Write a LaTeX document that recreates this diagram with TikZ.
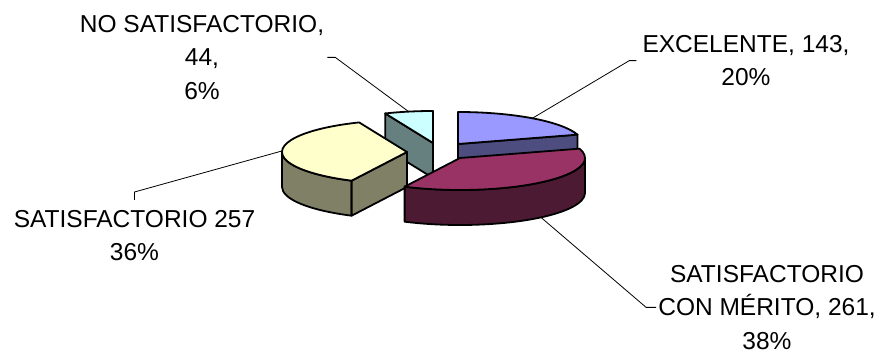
\documentclass[tikz,border=0pt]{standalone}
\usepackage{fontspec}
\setmainfont{Liberation Sans}

\definecolor{excTop}{HTML}{9999FF}
\definecolor{excSide}{HTML}{4D4D80}
\definecolor{conTop}{HTML}{993366}
\definecolor{conSide}{HTML}{4D1A33}
\definecolor{satTop}{HTML}{FFFFCC}
\definecolor{satSide}{HTML}{808066}
\definecolor{noTop}{HTML}{CCFFFF}
\definecolor{noSide}{HTML}{668080}

\begin{document}
\begin{tikzpicture}[x=1pt,y=1pt]
		\tikzstyle{slice}=[draw=black,
			line width=1.8pt,
			line join=round,
			];
		\tikzstyle{leader}=[draw,
			line width=0.8pt,
			];
		\tikzstyle{lbl}=[align=center,
			inner sep=0pt,
			anchor=north,
			font=\fontsize{24.5}{33.5}\selectfont,
			];
		\tikzstyle{rim}=[x radius=125pt,y radius=32pt];

		\useasboundingbox (0,0) rectangle (888,356);

		% slice centres
		\coordinate (cNo) at (433,213);
		\coordinate (cExc) at (458,212);
		\coordinate (cSat) at (407,204);
		\coordinate (cCon) at (460,198);

		\path (cNo) ++(101.25:125pt and 32pt) coordinate (pNo);
		\path (cExc) ++(53.5:125pt and 32pt) coordinate (pExc);
		\path (cSat) ++(178.1:125pt and 32pt) coordinate (pSat);
		\path (cCon) ++(-49.65:125pt and 32pt) ++(0,-35) coordinate (pCon);

		% labels
		\node [lbl] (lblNo) at (202,341) {NO SATISFACTORIO,\\44,\\6\%};
		\node [lbl] (lblExc) at (746,321) {EXCELENTE, 143,\\20\%};
		\node [lbl] (lblSat) at (134.5,146) {SATISFACTORIO 257\\36\%};
		\node [lbl] (lblCon) at (767,91) {SATISFACTORIO\\CON MÉRITO, 261,\\38\%};

		\draw [leader] ([xshift=3pt]lblNo.east) -- ++(8,0) -- (pNo);
		\draw [leader] ([xshift=-6pt]lblExc.west) -- ++(-7,0) -- (pExc);
		\draw [leader] ([yshift=10pt]lblSat.north) -- ++(0,8) -- (pSat);
		\draw [leader] ([xshift=-2pt]lblCon.west) -- ++(-10,0) -- (pCon);

		% NO SATISFACTORIO
		\filldraw [slice,fill=noSide] (cNo) -- ++(112.5:125pt and 32pt) -- ++(0,-35) -- ([yshift=-35pt]cNo) -- cycle;
		\filldraw [slice,fill=noTop] (cNo) -- ++(0,32) arc[rim,start angle=90,end angle=112.5] -- cycle;

		% EXCELENTE
		\filldraw [slice,fill=excSide] (cExc) -- ++(17:125pt and 32pt) -- ++(0,-35) -- ([yshift=-35pt]cExc) -- cycle;
		\filldraw [slice,fill=excTop] (cExc) -- ++(0,32) arc[rim,start angle=90,end angle=17] -- cycle;

		% SATISFACTORIO
		\filldraw [slice,fill=satSide] ([xshift=-125pt]cSat) arc[rim,start angle=180,end angle=243.7] -- ++(0,-35) arc[rim,start angle=243.7,end angle=180] -- cycle;
		\filldraw [slice,fill=satSide] (cSat) -- ++(243.7:125pt and 32pt) -- ++(0,-35) -- ([yshift=-35pt]cSat) -- cycle;
		\filldraw [slice,fill=satTop] (cSat) -- ++(112.5:125pt and 32pt) arc[rim,start angle=112.5,end angle=243.7] -- cycle;

		% SATISFACTORIO CON MERITO
		\filldraw [slice,fill=conSide] ([xshift=125pt]cCon) arc[rim,start angle=0,end angle=-116.3] -- ++(0,-35) arc[rim,start angle=-116.3,end angle=0] -- cycle;
		\filldraw [slice,fill=conTop] (cCon) -- ++(17:125pt and 32pt) arc[rim,start angle=17,end angle=-116.3] -- cycle;
	\end{tikzpicture}
\end{document}
